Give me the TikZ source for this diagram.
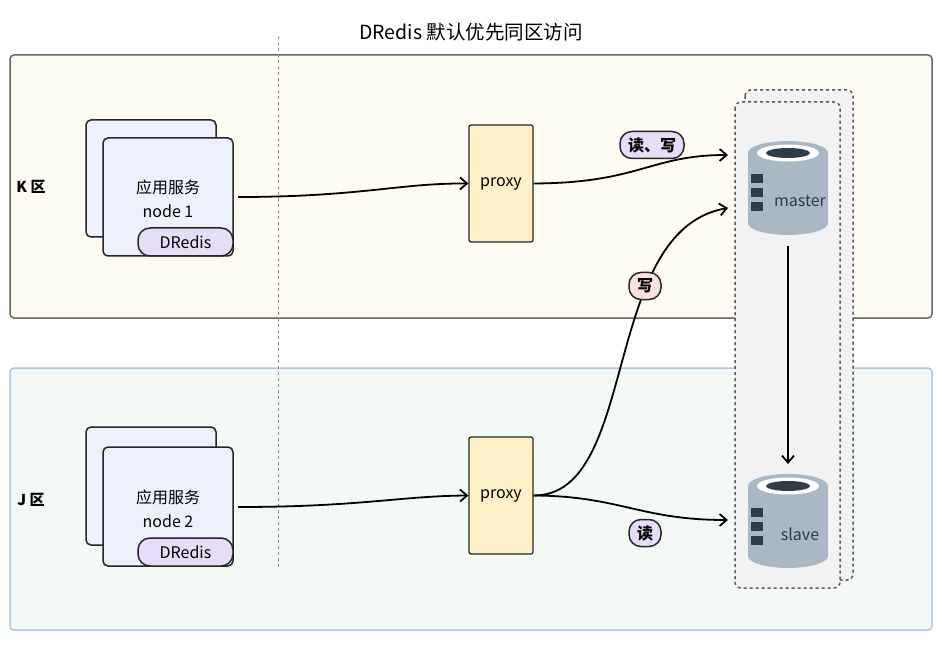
\documentclass[tikz,border=0pt]{standalone}
\usepackage{fontspec}
\setmainfont{Noto Sans CJK SC}
\usetikzlibrary{arrows.meta}
\definecolor{zoneK}{HTML}{FEFBF2}
\definecolor{zoneJ}{HTML}{F4F9F6}
\definecolor{zoneJb}{HTML}{A9C8E6}
\definecolor{appfill}{HTML}{EEF1FC}
\definecolor{pillfill}{HTML}{E6DDF8}
\definecolor{proxyfill}{HTML}{FDEFC8}
\definecolor{pinkfill}{HTML}{FBE1E0}
\definecolor{dbbody}{HTML}{A9B8C4}
\definecolor{dbdark}{HTML}{2E3D49}
\definecolor{grpfill}{HTML}{F2F2F2}
\tikzset{
  card/.style={draw=black!85,line width=1.5pt,fill=appfill,rounded corners=5pt},
  pill/.style={draw=black!85,line width=1.5pt,fill=pillfill,rounded corners=12pt,font=\fontsize{16}{16}\selectfont,inner sep=0pt},
  proxy/.style={draw=black!85,line width=1.2pt,fill=proxyfill,rounded corners=2pt,minimum width=64pt,minimum height=117pt,font=\fontsize{16}{16}\selectfont},
  tag/.style={draw=black!85,line width=1.5pt,rounded corners=12pt,minimum height=27pt,inner xsep=8pt,font=\bfseries\fontsize{16}{16}\selectfont},
  arr/.style={line width=1.8pt,-{Straight Barb[length=7pt,width=12pt]}},
  grp/.style={draw=black!65,dashed,line width=1.5pt,fill=grpfill,rounded corners=6pt},
  txt/.style={font=\fontsize{16}{24}\selectfont,align=center}
}
\newcommand{\dbicon}[3]{% x, y(center), label
  \fill[dbbody] (#1-40,#2-35) -- (#1-40,#2+35) arc[start angle=180,end angle=0,x radius=40,y radius=12] -- (#1+40,#2-35) -- cycle;
  \fill[dbbody] (#1,#2-35) ellipse[x radius=40,y radius=12];
  \fill[white] (#1,#2-35) ellipse[x radius=31,y radius=8.5];
  \fill[dbdark] (#1,#2-35) ellipse[x radius=22,y radius=5];
  \foreach \k in {-9,5,19} \fill[dbdark] (#1-37,#2+\k-4.5) rectangle (#1-25,#2+\k+4.5);
  \node[font=\fontsize{16}{16}\selectfont,text=dbdark] at (#1+12,#2+13) {#3};
}
\begin{document}
\begin{tikzpicture}[x=1pt,y=-1pt]
\useasboundingbox (0,0) rectangle (942,652);
\node[font=\fontsize{19.5}{19.5}\selectfont] (title) at (471,32) {DRedis 默认优先同区访问};
% zones
\draw[draw=black!60,line width=1.5pt,fill=zoneK,rounded corners=4pt] (10,55) rectangle (932,318);
\draw[draw=zoneJb,line width=1.5pt,fill=zoneJ,rounded corners=4pt] (10,368) rectangle (932,630);
\draw[black!45,dashed,line width=1pt] (278,36) -- (278,570);
\node[font=\bfseries\fontsize{15}{15}\selectfont] (kz) at (31,187) {K 区};
\node[font=\bfseries\fontsize{15}{15}\selectfont] (jz) at (31,500) {J 区};
% app cards
\draw[card] (86,120) rectangle (216,237);
\draw[card] (103,138) rectangle (233,256);
\node[txt] (app1) at (168,199) {应用服务\\node 1};
\node[pill,minimum width=95pt,minimum height=28pt] (dr1) at (185.5,242) {DRedis};
\draw[card] (86,427) rectangle (216,545);
\draw[card] (103,447) rectangle (233,566);
\node[txt] (app2) at (168,509) {应用服务\\node 2};
\node[pill,minimum width=95pt,minimum height=28pt] (dr2) at (185.5,552) {DRedis};
\coordinate (a1) at (238,197);
\coordinate (a2) at (238,507);
% proxies
\node[proxy] (p1) at (501,183.5) {proxy};
\node[proxy] (p2) at (501,495.5) {proxy};
% db group
\draw[grp] (745,90) rectangle (853,580);
\draw[grp] (735,102) rectangle (840,588);
\dbicon{788}{188}{master}
\dbicon{788}{521}{slave}
\coordinate (mIn1) at (728,155);
\coordinate (mIn2) at (728,208);
\coordinate (sIn) at (728,520);
\coordinate (mOut) at (788,246);
\coordinate (sTop) at (788,464);
% connectors
\draw[arr] (a1) .. controls (360,197) and (400,183) .. (p1.west);
\draw[arr] (a2) .. controls (360,507) and (400,496) .. (p2.west);
\draw[arr] (p1.east) .. controls (640,183) and (650,155) .. (mIn1);
\draw[arr] (p2.east) .. controls (640,496) and (600,230) .. (mIn2);
\draw[arr] (p2.east) .. controls (620,496) and (640,520) .. (sIn);
\draw[arr] (mOut) -- (sTop);
% labels
\node[tag,fill=pillfill] (lrw) at (652,145) {读、写};
\node[tag,fill=pinkfill] (lw) at (645,286) {写};
\node[tag,fill=pillfill] (lr) at (645,533) {读};
\end{tikzpicture}
\end{document}
